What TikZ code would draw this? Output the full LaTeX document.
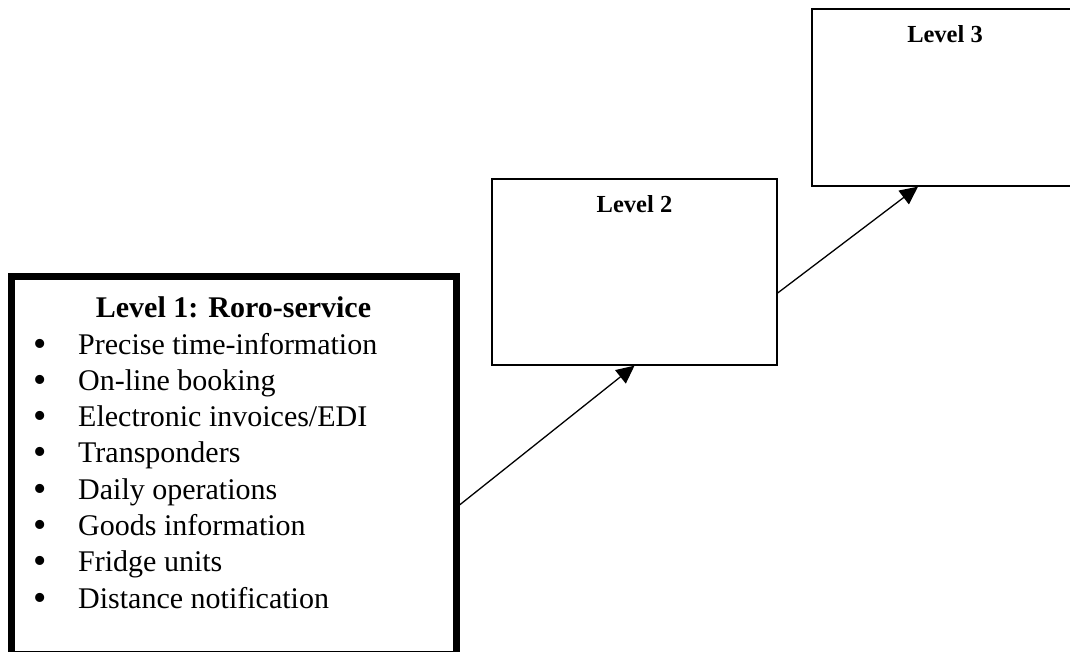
\documentclass[tikz,border=0pt]{standalone}
\usepackage{fontspec}
\setmainfont{Liberation Serif}
\usetikzlibrary{arrows.meta}
\newcommand\itm[1]{\makebox[0pt]{\raisebox{-2pt}{\fontsize{38}{38}\selectfont •}}\hspace{38pt}#1}
\begin{document}
\begin{tikzpicture}[x=1pt,y=-1pt,
  box/.style={draw, rectangle, inner sep=0pt, line width=1.3pt},
  thickbox/.style={box, line width=7pt},
  conn/.style={line width=1.3pt, -{Triangle[length=18pt,width=17pt]}},
  smalltitle/.style={anchor=base, inner sep=0pt, font=\bfseries\fontsize{24.5}{29}\selectfont},
  bigtitle/.style={anchor=base, inner sep=0pt, font=\bfseries\fontsize{30}{36}\selectfont},
  listtext/.style={anchor=base west, inner sep=0pt, align=left, font=\fontsize{30}{36.3}\selectfont}]
\useasboundingbox (0,0) rectangle (1070,651);
% boxes
\node[thickbox, minimum width=445pt, minimum height=378pt] (l1) at (233.5,465) {};
\node[box, minimum width=285pt, minimum height=186pt] (l2) at (634.5,272) {};
\node[box, minimum width=266pt, minimum height=177pt] (l3) at (945,97.5) {};
% texts
\node[bigtitle] (t1) at ([yshift=-44.5pt]l1.north) {Level 1: Roro-service};
\node[listtext] (list) at (40,608.1) {\itm{Precise time-information}\\
\itm{On-line booking}\\
\itm{Electronic invoices/EDI}\\
\itm{Transponders}\\
\itm{Daily operations}\\
\itm{Goods information}\\
\itm{Fridge units}\\
\itm{Distance notification}};
\node[smalltitle] (t2) at ([yshift=-34.5pt]l2.north) {Level 2};
\node[smalltitle] (t3) at ([yshift=-34.5pt]l3.north) {Level 3};
% connectors
\coordinate (s1) at ([yshift=-40pt]l1.east);
\coordinate (s2) at ([yshift=-21pt]l2.east);
\coordinate (e2) at ([xshift=-27pt]l3.south);
\draw[conn] (s1) -- (l2.south);
\draw[conn] (s2) -- (e2);
\end{tikzpicture}
\end{document}
